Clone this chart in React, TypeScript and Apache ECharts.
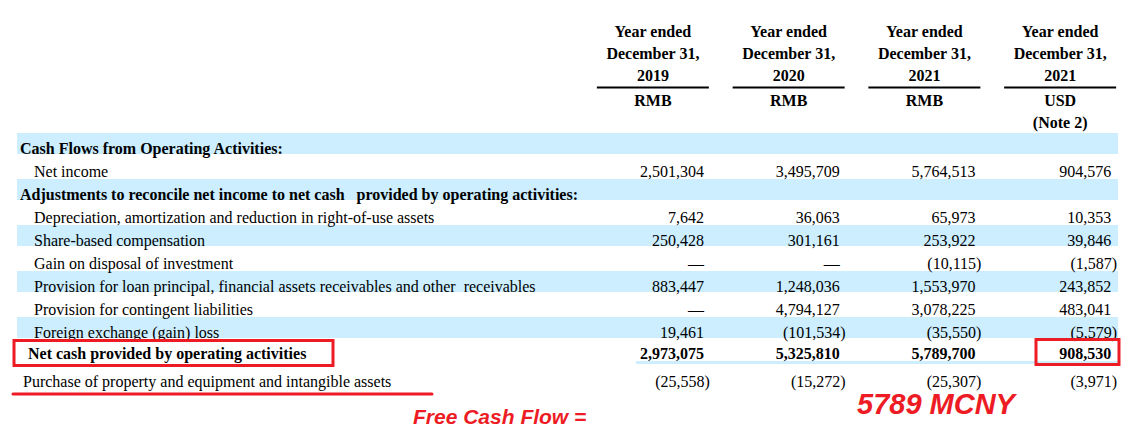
import React, { useEffect, useRef } from "react";
import * as echarts from "echarts";

// ---- Data ----
const headerLine1 = "Year ended";
const headerLine2 = "December 31,";
const colYears = ["2019", "2020", "2021", "2021"];
const colCurrencies = ["RMB", "RMB", "RMB", "USD"];
const colNotes = ["", "", "", "(Note 2)"];
const colKeys = ["2019 RMB", "2020 RMB", "2021 RMB", "2021 USD"];

const rowLabels = [
  "Cash Flows from Operating Activities:",
  "Net income",
  "Adjustments to reconcile net income to net cash   provided by operating activities:",
  "Depreciation, amortization and reduction in right-of-use assets",
  "Share-based compensation",
  "Gain on disposal of investment",
  "Provision for loan principal, financial assets receivables and other  receivables",
  "Provision for contingent liabilities",
  "Foreign exchange (gain) loss",
  "Net cash provided by operating activities",
  "Purchase of property and equipment and intangible assets",
];
const rowKinds = ["section", "item", "section", "item", "item", "item", "item", "item", "item", "total", "plain"];

// null = empty cell, 0 = dash (nil)
const values2019 = [null, 2501304, null, 7642, 250428, 0, 883447, 0, 19461, 2973075, -25558];
const values2020 = [null, 3495709, null, 36063, 301161, 0, 1248036, 4794127, -101534, 5325810, -15272];
const values2021 = [null, 5764513, null, 65973, 253922, -10115, 1553970, 3078225, -35550, 5789700, -25307];
const valuesUSD = [null, 904576, null, 10353, 39846, -1587, 243852, 483041, -5579, 908530, -3971];
const columns = [values2019, values2020, values2021, valuesUSD];

const bandRows = [0, 2, 4, 6, 8];
const totalRow = 9;

const annotationLeft = "Free Cash Flow =";
const annotationRight = "5789 MCNY";

// ---- Styles ----
const SERIF = "'Liberation Serif', 'Times New Roman', serif";
const SANS = "'Liberation Sans', Arial, sans-serif";
const FS = 16;
const BAND = "#CCEEFF";
const RED = "#ED1C24";
// small vertical nudges (px) for the last two rows, which are spaced irregularly
const rowNudge: Record<number, number> = { 9: -2, 10: 3 };

function formatNum(v: number | null): string {
  if (v === null) return "";
  if (v === 0) return "—";
  const s = Math.abs(v).toLocaleString("en-US");
  return v < 0 ? `(${s})` : s;
}

export default function App() {
  const ref = useRef<HTMLDivElement>(null);

  useEffect(() => {
    document.body.style.margin = "0";
    const chart = echarts.init(ref.current!, null, { renderer: "svg" });

    const cellData: any[] = [];
    columns.forEach((col, c) => {
      col.forEach((v, r) => {
        if (v !== null) cellData.push([c, r, v]);
      });
    });

    const labelStyle = (bold: boolean, left: number, r?: number) => {
      const n = r !== undefined ? rowNudge[r] || 0 : 0;
      return {
        fontFamily: SERIF,
        fontWeight: bold ? "bold" : "normal",
        fontSize: FS,
        color: "#000",
        padding: [n > 0 ? 2 * n : 0, 0, n < 0 ? -2 * n : 0, left],
      };
    };

    const option: any = {
      animation: false,
      grid: { left: 585, right: -1, top: 136.5, height: 253, containLabel: false },
      xAxis: {
        type: "category",
        data: colKeys,
        position: "top",
        z: 5,
        axisLine: { show: false },
        axisTick: { show: false },
        splitLine: { show: false },
        axisLabel: {
          interval: 0,
          margin: 4,
          color: "#000",
          fontFamily: SERIF,
          formatter: (_: string, i: number) =>
            `{h|${headerLine1}}\n{h|${headerLine2}}\n{h|${colYears[i]}}\n{ul| }\n{c|${colCurrencies[i]}}\n{n|${colNotes[i] || " "}}`,
          rich: {
            h: { fontFamily: SERIF, fontWeight: "bold", fontSize: FS, lineHeight: 22, color: "#000" },
            ul: { width: 112, height: 2, lineHeight: 2, fontSize: 2, backgroundColor: "#000" },
            c: { fontFamily: SERIF, fontWeight: "bold", fontSize: FS, lineHeight: 24, color: "#000" },
            n: { fontFamily: SERIF, fontWeight: "bold", fontSize: FS, lineHeight: 20, color: "#000" },
          },
        },
      },
      yAxis: {
        type: "category",
        data: rowLabels,
        inverse: true,
        z: 5,
        axisLine: { show: false },
        axisTick: { show: false },
        splitLine: { show: false },
        axisLabel: {
          interval: 0,
          align: "left",
          margin: 565,
          verticalAlign: "middle",
          formatter: (v: string, i: number) => `{${rowKinds[i]}${i >= 9 ? i : ""}|${v}}`,
          rich: {
            section: labelStyle(true, 0),
            item: labelStyle(false, 14),
            total9: labelStyle(true, 8, 9),
            plain10: labelStyle(false, 3, 10),
          },
        },
      },
      series: [
        {
          type: "custom",
          name: "bands",
          z: 1,
          clip: false,
          silent: true,
          data: bandRows.map((r) => [0, r]),
          renderItem: (_p: any, api: any) => {
            const pt = api.coord([api.value(0), api.value(1)]);
            return {
              type: "rect",
              shape: { x: 17, y: pt[1] - 15, width: 1101, height: 21 },
              style: { fill: BAND },
            };
          },
        },
        {
          type: "custom",
          name: "totalLine",
          z: 1,
          clip: false,
          silent: true,
          data: [[0, totalRow]],
          renderItem: (_p: any, api: any) => {
            const r = api.value(1);
            const pt = api.coord([api.value(0), r]);
            return {
              type: "rect",
              shape: { x: pt[0] - 17, y: pt[1] + 8 + (rowNudge[r] || 0), width: 482, height: 3 },
              style: { fill: BAND },
            };
          },
        },
        {
          type: "custom",
          name: "values",
          z: 3,
          clip: false,
          silent: true,
          data: cellData,
          renderItem: (_p: any, api: any) => {
            const c = api.value(0);
            const r = api.value(1);
            const v = api.value(2);
            const pt = api.coord([c, r]);
            return {
              type: "text",
              x: pt[0] + 51 + (v < 0 ? 6 : 0),
              y: pt[1] + (rowNudge[r] || 0),
              style: {
                text: formatNum(v),
                align: "right",
                verticalAlign: "middle",
                fontFamily: SERIF,
                fontSize: FS,
                fontWeight: r === totalRow ? "bold" : "normal",
                fill: "#000",
              },
            };
          },
        },
      ],
      graphic: [
        {
          type: "rect",
          z: 10,
          shape: { x: 14, y: 340.5, width: 319, height: 25 },
          style: { fill: "none", stroke: RED, lineWidth: 3 },
        },
        {
          type: "rect",
          z: 10,
          shape: { x: 1036, y: 339.5, width: 83, height: 25 },
          style: { fill: "none", stroke: RED, lineWidth: 3 },
        },
        {
          type: "line",
          z: 10,
          shape: { x1: 13, y1: 394, x2: 432, y2: 394 },
          style: { stroke: RED, lineWidth: 3, lineCap: "round" },
        },
        {
          type: "text",
          z: 10,
          x: 413,
          y: 416,
          style: {
            text: annotationLeft,
            fontFamily: SANS,
            fontWeight: "bold",
            fontStyle: "italic",
            fontSize: 21,
            fill: RED,
            verticalAlign: "middle",
          },
        },
        {
          type: "text",
          z: 10,
          x: 857,
          y: 404,
          style: {
            text: annotationRight,
            fontFamily: SANS,
            fontWeight: "bold",
            fontStyle: "italic",
            fontSize: 29,
            fill: RED,
            verticalAlign: "middle",
          },
        },
      ],
    };

    chart.setOption(option);
    return () => chart.dispose();
  }, []);

  return <div ref={ref} style={{ width: 1128, height: 436, background: "#fff" }} />;
}
